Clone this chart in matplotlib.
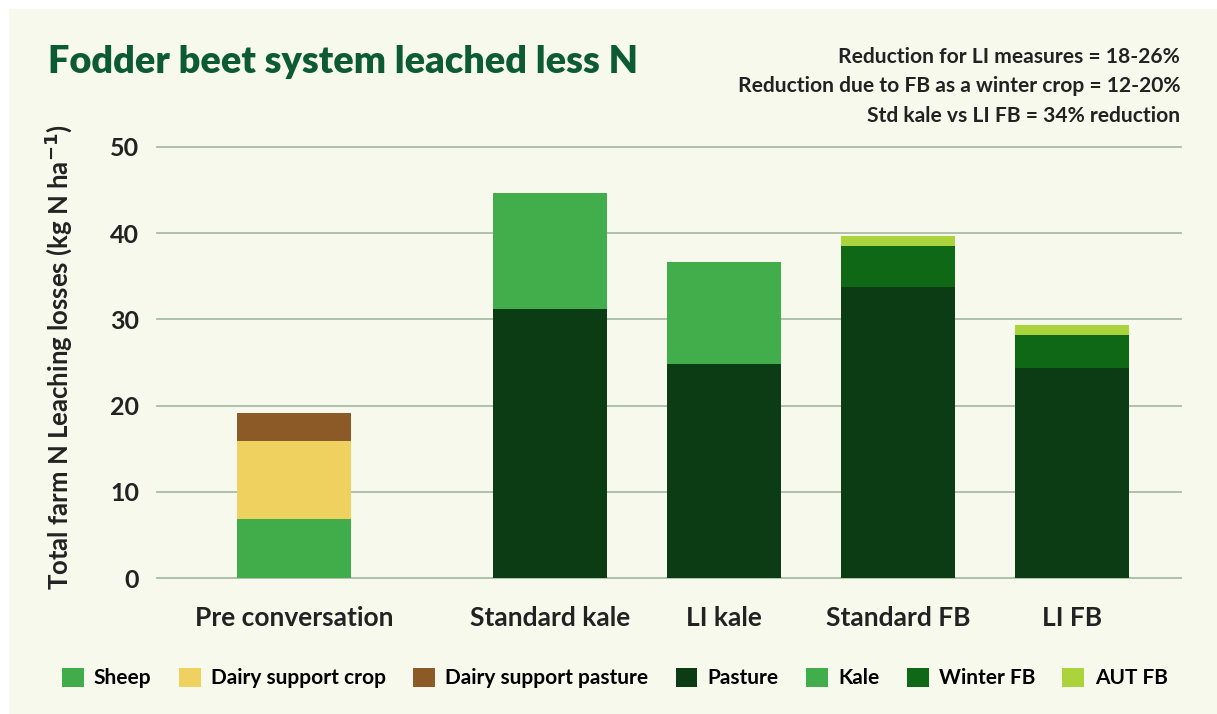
import matplotlib.pyplot as plt
from matplotlib.patches import Patch
import numpy as np

plt.rcParams['font.family'] = ['Lato', 'DejaVu Sans']

categories = ['Pre conversation', 'Standard kale', 'LI kale', 'Standard FB', 'LI FB']
positions = [0, 1.471, 2.471, 3.471, 4.471]

# stacked components (kg N/ha)
sheep = [6.9, 0, 0, 0, 0]
dairy_crop = [9.0, 0, 0, 0, 0]
dairy_pasture = [3.2, 0, 0, 0, 0]
pasture = [0, 31.2, 24.8, 33.8, 24.4]
kale = [0, 13.5, 11.9, 0, 0]
winter_fb = [0, 0, 0, 4.7, 3.8]
aut_fb = [0, 0, 0, 1.2, 1.2]

series = [
    ('Sheep', sheep, '#40ad4a'),
    ('Dairy support crop', dairy_crop, '#efd160'),
    ('Dairy support pasture', dairy_pasture, '#8c5a26'),
    ('Pasture', pasture, '#0c3c14'),
    ('Kale', kale, '#41ae4b'),
    ('Winter FB', winter_fb, '#0e6816'),
    ('AUT FB', aut_fb, '#abd33c'),
]

notes = [
    'Reduction for LI measures = 18-26%',
    'Reduction due to FB as a winter crop = 12-20%',
    'Std kale vs LI FB = 34% reduction',
]

bg = '#f6f9ec'
grid = '#a9bda4'
txt = '#222222'

fig = plt.figure(figsize=(12.17, 7.14), dpi=100)
fig.patch.set_facecolor('white')
fig.add_artist(plt.Rectangle((9 / 1217, 0), 1, 1 - 9 / 714, transform=fig.transFigure,
                             facecolor=bg, edgecolor='none', zorder=-10))

ax = fig.add_axes([157 / 1217, 1 - 578 / 714, 1024 / 1217, 431 / 714])
ax.set_facecolor('none')

bottom = np.zeros(len(categories))
for name, vals, col in series:
    ax.bar(positions, vals, width=0.655, bottom=bottom, color=col, zorder=3)
    bottom += np.array(vals)

ax.set_xlim(-0.787, 5.098)
ax.set_ylim(0, 50)
ax.set_yticks([0, 10, 20, 30, 40, 50])
ax.yaxis.grid(True, color=grid, linewidth=1.3, zorder=0)
for ln in ax.get_ygridlines():
    ln.set_clip_on(False)
for s in ax.spines.values():
    s.set_visible(False)
ax.tick_params(axis='both', length=0, colors=txt)
ax.tick_params(axis='y', pad=13, labelsize=18)
ax.tick_params(axis='x', pad=20, labelsize=19)
for lbl in ax.get_yticklabels() + ax.get_xticklabels():
    lbl.set_fontweight('bold')
ax.set_xticks(positions)
ax.set_xticklabels(categories)
ax.set_ylabel('Total farm N Leaching losses (kg N ha$^{\\mathbf{-1}}$)', fontsize=18.5,
              fontweight='bold', color=txt)
ax.yaxis.set_label_coords(58 / 1217, 0.5, transform=fig.transFigure)
ax.yaxis.label.set_va('center')

fig.text(48 / 1217, 1 - 62 / 714, 'Fodder beet system leached less N', fontsize=27.3,
         fontweight='heavy', color='#0d5b35', va='center', ha='left')
for i, note in enumerate(notes):
    fig.text(1180 / 1217, 1 - (57 + i * 29.5) / 714, note, fontsize=15.1, fontweight='bold',
             color=txt, ha='right', va='center')

handles = [Patch(facecolor=c, edgecolor='none') for _, _, c in series]
fig.legend(handles, [n for n, _, _ in series], loc='center', ncol=7,
           bbox_to_anchor=(0.505, 1 - 678 / 714), frameon=False,
           handlelength=1.05, handleheight=1.05, handletextpad=0.5, columnspacing=1.3,
           prop={'weight': 'bold', 'size': 15})

fig.savefig('out.png', dpi=100, facecolor=fig.get_facecolor())
